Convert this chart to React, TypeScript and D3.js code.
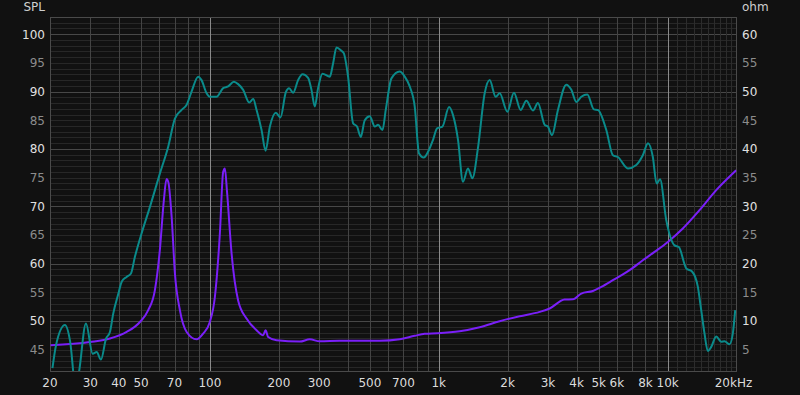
import React, { useEffect, useRef } from "react";
import * as d3 from "d3";

// SPL response (teal)
const splFreq = [
  20.5, 21.25, 23.26, 24.46, 25.97, 26.85, 28.72, 30.73, 31.99, 33.4, 35.12, 36.56, 37.79, 39.62, 41.25,
  43.24, 45.16, 47.0, 50.28, 54.67, 60.4, 65.7, 70.3, 75.2, 79.1, 83.1, 88.8, 91.9, 96.7, 99.9, 106.9,
  114.2, 120.1, 127.2, 132.8, 139.7, 148.4, 154.5, 159.9, 168.1, 175.0, 182.8, 194.1, 203.4, 214.6, 221.8,
  230.9, 242.8, 253.8, 268.5, 277.8, 287.2, 296.9, 310.3, 334.0, 345.2, 357.2, 375.6, 384.4, 401.4, 422.1,
  439.4, 456.1, 474.8, 499.4, 525.1, 542.8, 567.4, 586.5, 621.1, 675.3, 709.9, 746.5, 785.1, 820.0, 859.6,
  897.6, 944.0, 982.8, 1037.5, 1108.5, 1154, 1213.5, 1275.9, 1341.6, 1402.5, 1483.5, 1587.2, 1668.8, 1772.6,
  1845.3, 1994, 2130, 2279, 2413, 2579, 2712, 2902, 3000, 3123, 3317, 3609, 3796, 3991, 4196, 4457, 4764,
  4960, 5396, 5766, 6063, 6704, 7295, 7792, 8211, 8619, 8948, 9267, 9864, 10724, 11196, 12059, 12812,
  13552, 14022, 14499, 14988, 15507, 16309, 17149, 17727, 18640, 19269, 19741,
];
const splDb = [
  41.8, 45.8, 49.3, 46.6, 38.0, 41.4, 49.6, 44.3, 44.6, 43.3, 46.9, 48.1, 51.3, 54.5, 56.95,
  57.7, 58.3, 61.2, 65.3, 69.9, 75.7, 80.4, 85.3, 86.8, 87.7, 90.0, 92.6, 92.0, 89.7, 89.1, 89.1,
  90.6, 90.9, 91.7, 91.3, 90.3, 88.1, 88.7, 86.8, 83.3, 79.7, 83.9, 86.3, 85.5, 89.9, 90.6,
  89.8, 92.0, 93.0, 92.4, 90.3, 87.4, 90.6, 93.1, 92.6, 94.9, 97.7, 97.1, 96.7, 92.6, 84.5,
  83.9, 82.1, 85.0, 85.7, 83.9, 84.2, 83.3, 86.8, 92.3, 93.5, 92.6, 90.9, 87.4, 79.2, 78.5,
  79.5, 81.6, 83.6, 83.9, 87.3, 85.9, 81.6, 74.3, 76.6, 74.9, 80.2, 89.7, 92.0, 89.1,
  89.7, 86.5, 89.8, 86.8, 88.4, 86.7, 88.0, 84.2, 83.9, 82.4, 86.8, 91.2, 90.3, 88.2, 89.1, 89.5, 86.9,
  86.8, 83.3, 78.9, 78.6, 76.6, 77.2, 78.9, 81.0, 78.6, 74.0, 74.7, 67.6, 63.2, 62.9, 59.2, 58.6,
  56.0, 51.9, 47.8, 44.8, 45.5, 47.3, 46.4, 46.5, 45.95, 47.8, 51.9,
];

// impedance (purple)
const ohmFreq = [
  20.1, 29.9, 36.56, 43.24, 49.44, 53.74, 57.47, 60.4, 62.9, 64.6, 65.8, 68.0, 70.3, 73.9, 79.1, 87.4,
  93.4, 99.9, 105.1, 110.5, 114.2, 116.2, 118.9, 124.3, 132.8, 144.5, 159.9, 170.8, 175.0, 179.7, 195.5,
  247.0, 273.1, 302, 369.2, 552, 675.3, 785, 868, 989, 1234, 1509, 1845, 2256, 2759, 3051, 3547, 3857,
  4196, 4715, 5132, 5766, 6820, 7792, 8767, 10024, 11654, 13787, 16309, 19940,
];
const ohmVal = [
  5.78, 6.35, 6.95, 8.1, 9.84, 11.9, 15.4, 22.36, 31.1, 34.75, 34.2, 28.2, 18.3, 11.9, 8.1, 6.82,
  7.82, 9.84, 14.2, 25.27, 35.97, 36.6, 32.25, 21.8, 13.6, 10.44, 8.4, 7.52, 8.4, 7.22, 6.65,
  6.42, 6.82, 6.47, 6.56, 6.56, 6.82, 7.43, 7.78, 7.87, 8.22, 8.92, 9.97, 10.84, 11.6, 12.2, 13.75, 13.8,
  14.8, 15.25, 15.95, 17.12, 18.87, 20.6, 22.06, 23.8, 26.14, 29.34, 32.83, 36.3,
];

const xTickValues = [20, 30, 40, 50, 70, 100, 200, 300, 500, 700, 1000, 2000, 3000, 4000, 5000, 6000, 8000, 10000, 20000];
const xTickLabels = ["20", "30", "40", "50", "70", "100", "200", "300", "500", "700", "1k", "2k", "3k", "4k", "5k", "6k", "8k", "10k", "20kHz"];
const splTicks = [45, 50, 55, 60, 65, 70, 75, 80, 85, 90, 95, 100];
const ohmTicks = [5, 10, 15, 20, 25, 30, 35, 40, 45, 50, 55, 60];

const App = () => {
  const ref = useRef<SVGSVGElement | null>(null);

  useEffect(() => {
    document.body.style.margin = "0";
    document.body.style.background = "#111111";
    const width = 800;
    const height = 395;
    const left = 50;
    const right = 736.5;
    const top = 17;
    const bottom = 371;
    const svg = d3.select(ref.current);
    svg.selectAll("*").remove();
    const font = "DejaVu Sans, sans-serif";

    // scales
    const x = d3.scaleLog().domain([20, 20000]).range([left, right]);
    const ySpl = d3.scaleLinear().domain([41.3, 103]).range([bottom, top]);
    const yOhm = d3.scaleLinear().domain([1.3, 63]).range([bottom, top]);

    svg.append("rect").attr("width", width).attr("height", height).attr("fill", "#111111");

    svg
      .append("defs")
      .append("clipPath")
      .attr("id", "plot-clip")
      .append("rect")
      .attr("x", left)
      .attr("y", top)
      .attr("width", right - left)
      .attr("height", bottom - top);

    const grid = svg.append("g").attr("shape-rendering", "crispEdges");

    // horizontal grid
    for (let v = 42; v <= 102; v++) {
      grid
        .append("line")
        .attr("x1", left)
        .attr("x2", right)
        .attr("y1", Math.round(ySpl(v)) + 0.5)
        .attr("y2", Math.round(ySpl(v)) + 0.5)
        .attr("stroke", v % 10 === 0 ? "#484848" : "#272727");
    }

    // fine verticals 11k..19k
    for (let f = 11000; f < 20000; f += 1000) {
      grid
        .append("line")
        .attr("x1", Math.round(x(f)) + 0.5)
        .attr("x2", Math.round(x(f)) + 0.5)
        .attr("y1", top)
        .attr("y2", bottom)
        .attr("stroke", "#2c2c2c");
    }

    // decade verticals
    [10, 100, 1000, 10000].forEach((dec) => {
      for (let m = 1; m <= 9; m++) {
        const f = dec * m;
        if (f <= 20 || f >= 20000) continue;
        grid
          .append("line")
          .attr("x1", Math.round(x(f)) + 0.5)
          .attr("x2", Math.round(x(f)) + 0.5)
          .attr("y1", top)
          .attr("y2", bottom)
          .attr("stroke", m === 1 ? "#8a8a8a" : "#444444");
      }
    });

    // frame
    grid
      .append("rect")
      .attr("x", left + 0.5)
      .attr("y", top + 0.5)
      .attr("width", right - left - 1)
      .attr("height", bottom - top)
      .attr("fill", "none")
      .attr("stroke", "#4a4a4a");

    // curves
    const plot = svg.append("g").attr("clip-path", "url(#plot-clip)");
    const ohmLine = d3
      .line<number>()
      .x((_, i) => x(ohmFreq[i]))
      .y((d) => yOhm(d))
      .curve(d3.curveMonotoneX);
    const splLine = d3
      .line<number>()
      .x((_, i) => x(splFreq[i]))
      .y((d) => ySpl(d))
      .curve(d3.curveMonotoneX);

    plot
      .append("path")
      .datum(ohmVal)
      .attr("fill", "none")
      .attr("stroke", "#7a1ff8")
      .attr("stroke-width", 2)
      .attr("d", ohmLine);
    plot
      .append("path")
      .datum(splDb)
      .attr("fill", "none")
      .attr("stroke", "#0a8a8a")
      .attr("stroke-width", 2)
      .attr("d", splLine);

    // left axis labels
    splTicks.forEach((t) => {
      svg
        .append("text")
        .attr("x", 45)
        .attr("y", ySpl(t))
        .attr("dy", "0.36em")
        .attr("text-anchor", "end")
        .attr("font-family", font)
        .attr("font-size", 12)
        .attr("fill", t % 10 === 0 ? "#e0e0e0" : "#8c8c8c")
        .text(t);
    });
    // right axis labels
    ohmTicks.forEach((t) => {
      svg
        .append("text")
        .attr("x", 742)
        .attr("y", yOhm(t))
        .attr("dy", "0.36em")
        .attr("text-anchor", "start")
        .attr("font-family", font)
        .attr("font-size", 12)
        .attr("fill", t % 10 === 0 ? "#e0e0e0" : "#8c8c8c")
        .text(t);
    });
    // bottom labels
    xTickValues.forEach((t, i) => {
      svg
        .append("text")
        .attr("x", i === xTickValues.length - 1 ? x(t) - 3 : x(t))
        .attr("y", 387)
        .attr("text-anchor", "middle")
        .attr("font-family", font)
        .attr("font-size", 12)
        .attr("fill", "#dcdcdc")
        .text(xTickLabels[i]);
    });

    svg
      .append("text")
      .attr("x", 45)
      .attr("y", 11)
      .attr("text-anchor", "end")
      .attr("font-family", font)
      .attr("font-size", 12)
      .attr("fill", "#cfcfcf")
      .text("SPL");
    svg
      .append("text")
      .attr("x", 742)
      .attr("y", 11)
      .attr("font-family", font)
      .attr("font-size", 12)
      .attr("fill", "#cfcfcf")
      .text("ohm");
  }, []);

  return <svg ref={ref} width={800} height={395} style={{ display: "block" }} />;
};

export default App;
